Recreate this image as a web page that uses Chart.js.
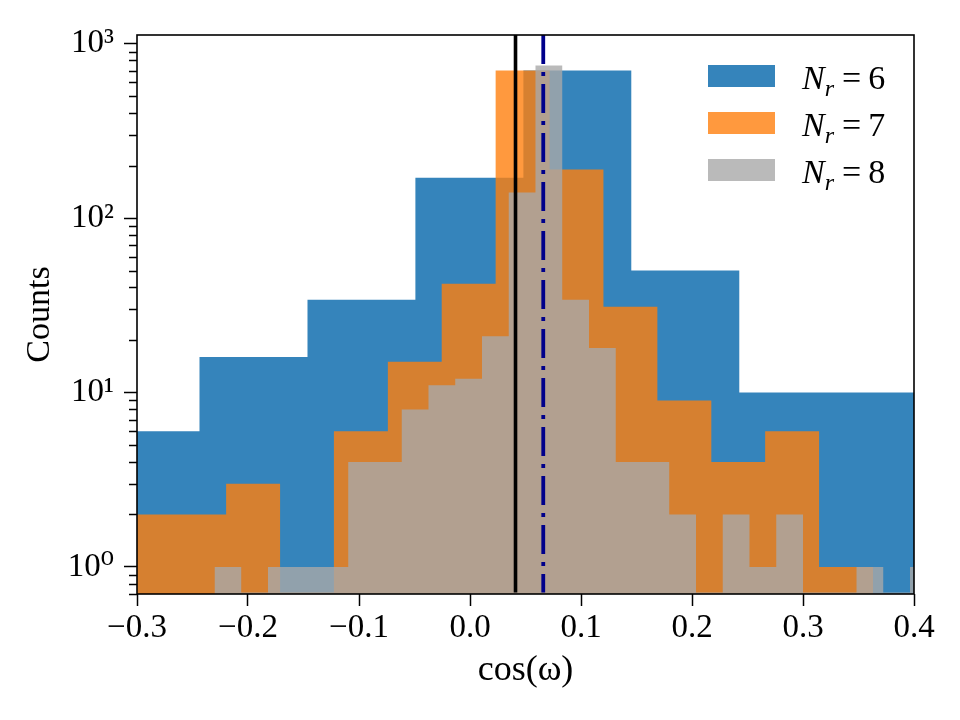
<!DOCTYPE html>
<html>
<head>
<meta charset="utf-8">
<script src="https://cdn.jsdelivr.net/npm/chart.js@4.4.0/dist/chart.umd.min.js"></script>
<style>
  body { margin: 0; background: #fff; }
  canvas { display: block; }
</style>
</head>
<body>
<canvas id="histChart" width="960" height="720"></canvas>
<script>
// bin edges (cos omega) and counts for each N_r
const edges6 = [-0.3409, -0.2437, -0.1464, -0.0492, 0.0481, 0.1453, 0.2426, 0.3398, 0.4371];
const counts6 = [6, 16, 34, 170, 700, 50, 10, 10];
const edges7 = [-0.3168, -0.2683, -0.2197, -0.1711, -0.1226, -0.0740, -0.0255, 0.0231,
    0.0717, 0.1202, 0.1688, 0.2174, 0.2659, 0.3145, 0.3631];
const counts7 = [2, 2, 3, 0, 6, 15, 42, 700, 190, 31, 9, 4, 6, 1];
const edges8 = [-0.2302, -0.2061, -0.1820, -0.1579, -0.1338, -0.1097, -0.0856, -0.0615,
    -0.0374, -0.0133, 0.0108, 0.0349, 0.0590, 0.0831, 0.1072, 0.1313, 0.1554, 0.1795,
    0.2036, 0.2277, 0.2518, 0.2759, 0.3000, 0.3241, 0.3482, 0.3723, 0.3964, 0.4205];
const counts8 = [1, 0, 1, 1, 1, 4, 4, 8, 11, 12, 21, 140, 750, 34, 18, 4, 4, 2, 0, 2, 1, 2, 0, 0, 1, 0, 1];
const nrValues = ['6', '7', '8'];
const xTicks = [-0.3, -0.2, -0.1, 0.0, 0.1, 0.2, 0.3, 0.4];
const yTicks = [1, 10, 100, 1000];
const solidLineX = 0.041;
const dashDotLineX = 0.066;

const yMin = 0.715;
const yMax = 1120;
const colors = ['rgba(31,119,180,0.9)', 'rgba(255,127,14,0.8)', 'rgba(169,169,169,0.8)'];
const serif = "'Liberation Serif', 'DejaVu Serif', serif";
const sup = ['\u2070', '\u00b9', '\u00b2', '\u00b3'];

Chart.defaults.font.family = serif;
Chart.defaults.color = '#000';

// step outline for a histogram: one point per left edge, plus the last right edge
function histPoints(edges, counts) {
    const pts = counts.map((c, i) => ({ x: edges[i], y: c > 0 ? c : yMin }));
    pts.push({ x: edges[edges.length - 1], y: pts[pts.length - 1].y });
    return pts;
}

function histSet(edges, counts, i) {
    return {
        label: 'N_r = ' + nrValues[i],
        data: histPoints(edges, counts),
        stepped: true,
        fill: 'start',
        backgroundColor: colors[i],
        borderWidth: 0,
        pointRadius: 0,
        order: 3 - i
    };
}

function isNice(v) {
    const p = Math.pow(10, Math.floor(Math.log10(v) + 1e-9));
    const s = v / p;
    return Math.abs(s - Math.round(s)) < 1e-6;
}

const isMajorY = v => yTicks.some(t => Math.abs(t - v) < 1e-6 * t);

const framePlugin = {
    id: 'frame',
    afterDatasetsDraw(chart) {
        const { ctx, chartArea: a } = chart;
        ctx.save();
        ctx.strokeStyle = '#000';
        ctx.lineWidth = 1.6;
        ctx.strokeRect(a.left, a.top, a.right - a.left, a.bottom - a.top);
        // shorter minor ticks on the log axis
        const ys = chart.scales.y;
        ctx.lineWidth = 1.3;
        ctx.beginPath();
        ys.ticks.forEach(t => {
            if (isMajorY(t.value)) return;
            const py = Math.round(ys.getPixelForValue(t.value)) + 0.5;
            ctx.moveTo(a.left - 8, py);
            ctx.lineTo(a.left, py);
        });
        ctx.stroke();
        ctx.restore();
    }
};

const legendPlugin = {
    id: 'nrLegend',
    afterDraw(chart) {
        const { ctx, chartArea: a } = chart;
        const boxX = a.right - 206;
        ctx.save();
        ctx.textBaseline = 'alphabetic';
        for (let i = 0; i < nrValues.length; i++) {
            const top = a.top + 30 + i * 47;
            ctx.fillStyle = colors[i];
            ctx.fillRect(boxX, top, 67, 22);
            ctx.fillStyle = '#000';
            const base = top + 24;
            let x = boxX + 94;
            ctx.font = 'italic 34px ' + serif;
            ctx.fillText('N', x, base);
            x += ctx.measureText('N').width;
            ctx.font = 'italic 24px ' + serif;
            ctx.fillText('r', x, base + 7);
            x += ctx.measureText('r').width + 8;
            ctx.font = '34px ' + serif;
            ctx.fillText('=', x, base);
            x += ctx.measureText('=').width + 7;
            ctx.fillText(nrValues[i], x, base);
        }
        ctx.restore();
    }
};

new Chart(document.getElementById('histChart'), {
    type: 'line',
    data: {
        datasets: [
            histSet(edges6, counts6, 0),
            histSet(edges7, counts7, 1),
            histSet(edges8, counts8, 2),
            {
                data: [{ x: solidLineX, y: yMin }, { x: solidLineX, y: yMax }],
                borderColor: '#000',
                borderWidth: 3.6,
                pointRadius: 0,
                fill: false,
                order: 0
            },
            {
                data: [{ x: dashDotLineX, y: yMax }, { x: dashDotLineX, y: yMin }],
                borderColor: '#00008b',
                borderWidth: 3.8,
                borderDash: [29, 8, 4, 8],
                pointRadius: 0,
                fill: false,
                order: 0
            }
        ]
    },
    options: {
        responsive: false,
        animation: false,
        layout: { padding: { top: 35, right: 46, left: 0, bottom: 0 } },
        plugins: {
            legend: { display: false },
            tooltip: { enabled: false }
        },
        scales: {
            x: {
                type: 'linear',
                min: -0.3,
                max: 0.4,
                afterBuildTicks: s => { s.ticks = xTicks.map(v => ({ value: v })); },
                afterFit: s => { s.height = 126; },
                grid: { drawOnChartArea: false, tickLength: 12, tickColor: '#000', tickWidth: 1.5 },
                border: { display: false },
                ticks: {
                    autoSkip: false,
                    maxRotation: 0,
                    padding: 3,
                    font: { size: 33 },
                    callback: v => (Math.abs(v) < 1e-9 ? '0.0' : v.toFixed(1).replace('-', '\u2212'))
                },
                title: { display: true, text: 'cos(\u03c9)', font: { size: 36 }, padding: { top: 0, bottom: 28 } }
            },
            y: {
                type: 'logarithmic',
                min: yMin,
                max: yMax,
                afterBuildTicks: s => { s.ticks = s.ticks.filter(t => isNice(t.value)); },
                afterFit: s => { s.width = 137; },
                grid: {
                    drawOnChartArea: false,
                    tickLength: 13,
                    tickWidth: 1.5,
                    tickColor: c => (c.tick && isMajorY(c.tick.value) ? '#000' : 'rgba(0,0,0,0)')
                },
                border: { display: false },
                ticks: {
                    autoSkip: false,
                    padding: 10,
                    font: { size: 33 },
                    callback: v => {
                        const k = yTicks.findIndex(t => Math.abs(t - v) < 1e-6 * t);
                        return k >= 0 ? '10' + sup[k] : '';
                    }
                },
                title: { display: true, text: 'Counts', font: { size: 34 }, padding: { top: 20, bottom: 0 } }
            }
        }
    },
    plugins: [framePlugin, legendPlugin]
});
</script>
</body>
</html>
